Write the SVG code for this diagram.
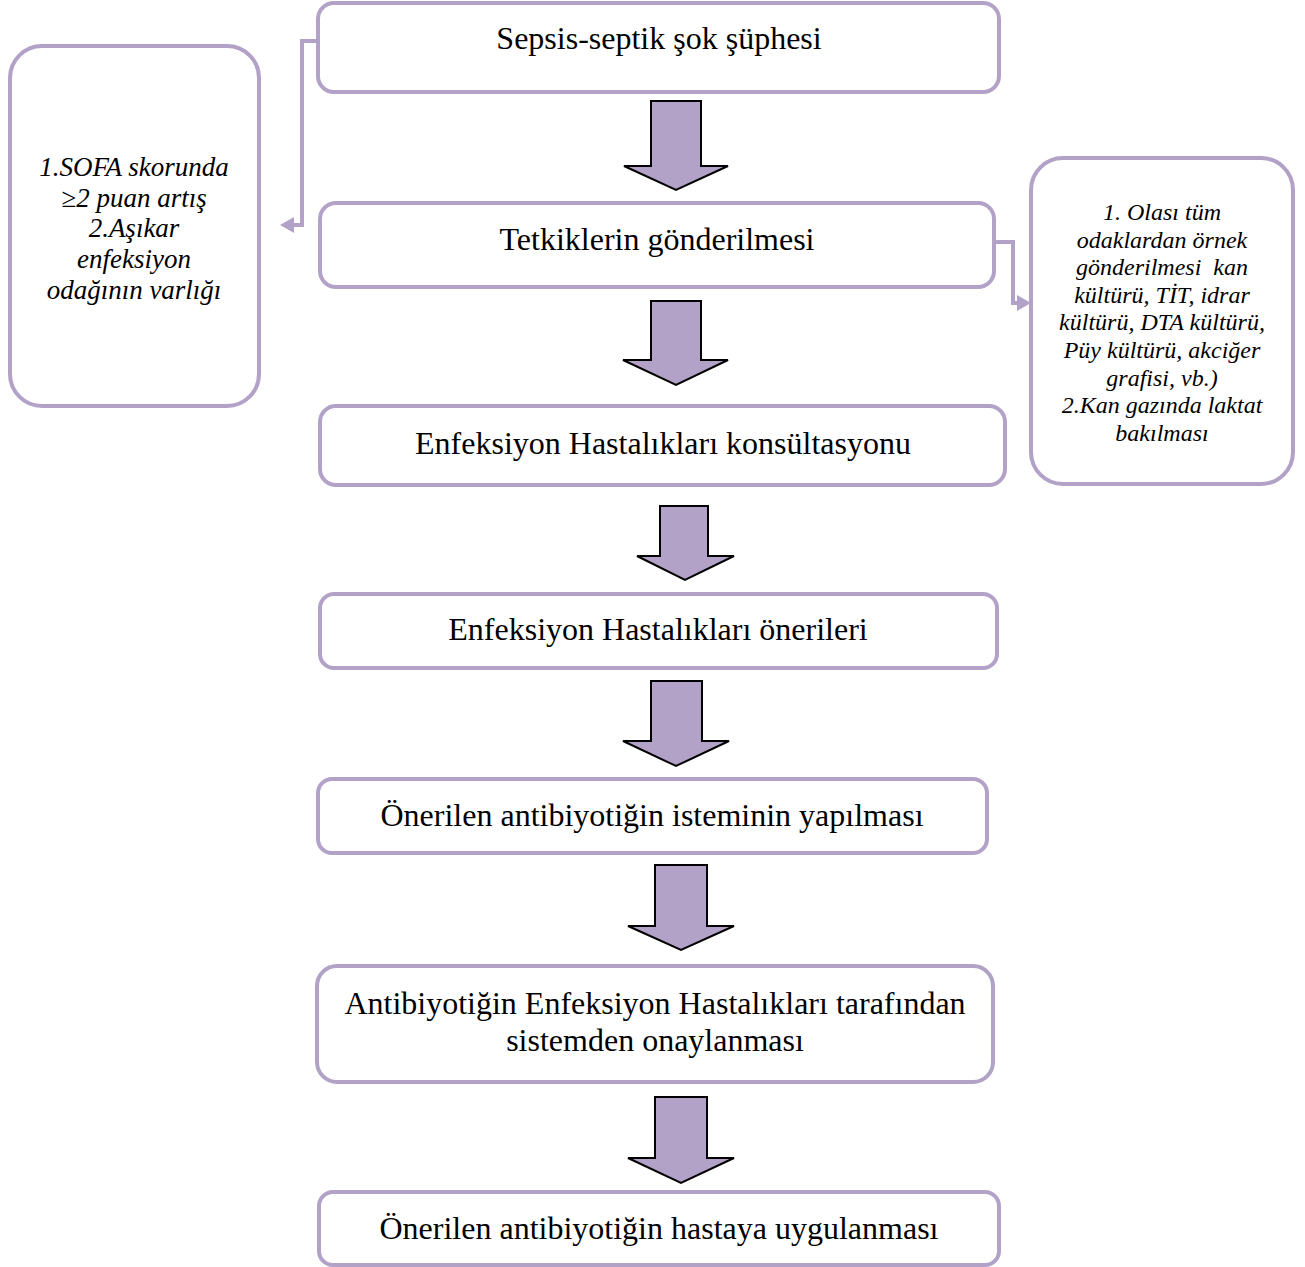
<svg xmlns="http://www.w3.org/2000/svg" width="1305" height="1267" viewBox="0 0 1305 1267">
  <defs>
    <style>
      .box { fill: #ffffff; stroke: #b3a2c7; stroke-width: 4; }
      .main { font-family: "Liberation Serif", "Times New Roman", serif; font-size: 32px; fill: #000; text-anchor: middle; dominant-baseline: central; }
      .note { font-family: "Liberation Serif", "Times New Roman", serif; font-style: italic; fill: #000; text-anchor: middle; dominant-baseline: central; }
      .down { fill: #b3a2c7; stroke: #000; stroke-width: 2; stroke-linejoin: miter; }
      .link { fill: none; stroke: #b3a2c7; stroke-width: 4; }
      .tip { fill: #b3a2c7; }
    </style>
  </defs>
  <rect width="1305" height="1267" fill="#ffffff"/>

  <!-- side connectors -->
  <g id="connectors">
    <polyline class="link" points="318,41 302,41 302,225 292,225"/>
    <polygon class="tip" points="280,225 294,217 294,233"/>
    <polyline class="link" points="994,242 1013,242 1013,303 1020,303"/>
    <polygon class="tip" points="1031,303 1017,295 1017,311"/>
    <!-- block arrows between steps -->
    <path class="down" d="M651,101 H701 V166 H728 L676,190 L624,166 H651 Z"/>
    <path class="down" d="M651,301 H701 V360 H728 L676,385 L623,360 H651 Z"/>
    <path class="down" d="M660,506 H708 V556 H734 L685,580 L637,556 H660 Z"/>
    <path class="down" d="M651,681 H702 V741 H729 L676,766 L623,741 H651 Z"/>
    <path class="down" d="M655,865 H707 V926 H734 L681,950 L628,926 H655 Z"/>
    <path class="down" d="M655,1097 H707 V1158 H734 L681,1183 L628,1158 H655 Z"/>
  </g>

  <g id="step1">
    <rect class="box" x="318" y="3" width="681" height="89" rx="16"/>
    <text class="main" x="659" y="38">Sepsis-septik şok şüphesi</text>
  </g>
  <g id="step2">
    <rect class="box" x="320" y="203" width="674" height="84" rx="16"/>
    <text class="main" x="657" y="239">Tetkiklerin gönderilmesi</text>
  </g>
  <g id="step3">
    <rect class="box" x="320" y="406" width="685" height="79" rx="16"/>
    <text class="main" x="663" y="443">Enfeksiyon Hastalıkları konsültasyonu</text>
  </g>
  <g id="step4">
    <rect class="box" x="320" y="594" width="677" height="74" rx="14"/>
    <text class="main" x="658" y="629">Enfeksiyon Hastalıkları önerileri</text>
  </g>
  <g id="step5">
    <rect class="box" x="318" y="779" width="669" height="74" rx="14"/>
    <text class="main" x="652" y="815">Önerilen antibiyotiğin isteminin yapılması</text>
  </g>
  <g id="step6">
    <rect class="box" x="317" y="966" width="676" height="116" rx="20"/>
    <text class="main" x="655" y="1003">Antibiyotiğin Enfeksiyon Hastalıkları tarafından</text>
    <text class="main" x="655" y="1040">sistemden onaylanması</text>
  </g>
  <g id="step7">
    <rect class="box" x="319" y="1192" width="680" height="73" rx="14"/>
    <text class="main" x="659" y="1228">Önerilen antibiyotiğin hastaya uygulanması</text>
  </g>

  <g id="criteria">
    <rect class="box" x="10" y="46" width="249" height="360" rx="32"/>
    <text class="note" font-size="27" x="134" y="167">1.SOFA skorunda</text>
    <text class="note" font-size="27" x="134" y="198">≥2 puan artış</text>
    <text class="note" font-size="27" x="134" y="228">2.Aşıkar</text>
    <text class="note" font-size="27" x="134" y="259">enfeksiyon</text>
    <text class="note" font-size="27" x="134" y="290">odağının varlığı</text>
  </g>

  <g id="tests">
    <rect class="box" x="1031" y="158" width="262" height="326" rx="32"/>
    <text class="note" font-size="24" x="1162" y="212">1. Olası tüm</text>
    <text class="note" font-size="24" x="1162" y="240">odaklardan örnek</text>
    <text class="note" font-size="24" x="1162" y="267" xml:space="preserve">gönderilmesi  kan</text>
    <text class="note" font-size="24" x="1162" y="295">kültürü, TİT, idrar</text>
    <text class="note" font-size="24" x="1162" y="322">kültürü, DTA kültürü,</text>
    <text class="note" font-size="24" x="1162" y="350">Püy kültürü, akciğer</text>
    <text class="note" font-size="24" x="1162" y="378">grafisi, vb.)</text>
    <text class="note" font-size="24" x="1162" y="405">2.Kan gazında laktat</text>
    <text class="note" font-size="24" x="1162" y="433">bakılması</text>
  </g>
</svg>
